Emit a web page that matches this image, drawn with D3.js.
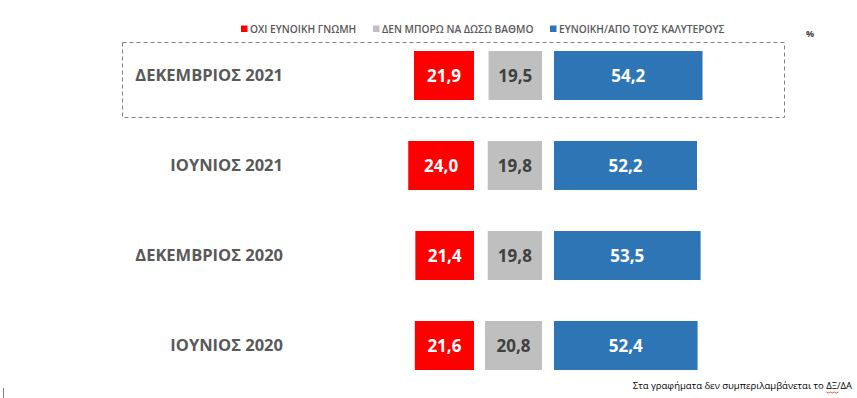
<!DOCTYPE html>
<html>
<head>
  <meta charset="utf-8">
  <title>Γνώμη</title>
  <script type="text/javascript" src="https://d3js.org/d3.v7.min.js"></script>
  <style>
    body { margin: 0; background: #fff; }
    text { font-family: "Open Sans", "Noto Sans", sans-serif; }
  </style>
</head>
<body>
  <div id="container"></div>
  <script type="text/javascript">
    var periods = ['ΔΕΚΕΜΒΡΙΟΣ 2021', 'ΙΟΥΝΙΟΣ 2021', 'ΔΕΚΕΜΒΡΙΟΣ 2020', 'ΙΟΥΝΙΟΣ 2020'];
    var negative = [21.9, 24.0, 21.4, 21.6];
    var noRating = [19.5, 19.8, 19.8, 20.8];
    var positive = [54.2, 52.2, 53.5, 52.4];
    var seriesNames = ['ΟΧΙ ΕΥΝΟΙΚΗ ΓΝΩΜΗ', 'ΔΕΝ ΜΠΟΡΩ ΝΑ ΔΩΣΩ ΒΑΘΜΟ', 'ΕΥΝΟΙΚΗ/ΑΠΟ ΤΟΥΣ ΚΑΛΥΤΕΡΟΥΣ'];
    var seriesColours = ['#ff0000', '#bfbfbf', '#2e75b6'];
    var note = 'Στα γραφήματα δεν συμπεριλαμβάνεται το ΔΞ/ΔΑ';

    var width = 857, height = 398;
    var barh = 49;
    var redEnd = 474, greyEnd = 542, blueStart = 554;

    var svg = d3.select('#container').append('svg')
      .attr('width', width)
      .attr('height', height);

    var w = d3.scaleLinear().domain([0, 100]).range([0, 274]);
    var y = d3.scalePoint().domain(periods).range([75.5, 345.5]);
    var fmt = v => d3.format('.1f')(v).replace('.', ',');

    // highlight box round the latest survey
    svg.append('rect')
      .attr('x', 122.5)
      .attr('y', 42.5)
      .attr('width', 662)
      .attr('height', 75)
      .attr('fill', 'none')
      .attr('stroke', '#808080')
      .attr('stroke-dasharray', '4,3');

    // legend
    var legX = [241, 373, 550];
    var leg = svg.append('g');
    seriesNames.forEach(function(n, i) {
      leg.append('rect')
        .attr('x', legX[i]).attr('y', 25.5)
        .attr('width', 6.5).attr('height', 6.5)
        .attr('fill', seriesColours[i]);
      leg.append('text')
        .attr('x', legX[i] + 9).attr('y', 32.5)
        .style('font-size', '10.2px')
        .style('font-weight', 600)
        .attr('fill', '#595959')
        .text(n);
    });
    svg.append('text')
      .attr('x', 810).attr('y', 37)
      .attr('text-anchor', 'middle')
      .style('font-size', '9px')
      .style('font-weight', 700)
      .attr('fill', '#404040')
      .text('%');

    // period labels
    svg.selectAll('.cat')
      .data(periods)
      .enter()
      .append('text')
        .attr('class', 'cat')
        .attr('x', 283)
        .attr('y', d => y(d))
        .attr('dy', '0.36em')
        .attr('text-anchor', 'end')
        .style('font-size', '16.5px')
        .style('font-weight', 700)
        .attr('fill', '#595959')
        .text(d => d);

    var rows = periods.map((p, i) => ({p: p, neg: negative[i], nr: noRating[i], pos: positive[i]}));

    function drawSeries(key, x0, colour, labelColour) {
      var g = svg.append('g');
      g.selectAll('rect')
        .data(rows)
        .enter()
        .append('rect')
          .attr('x', d => x0(d[key]))
          .attr('y', d => y(d.p) - barh/2)
          .attr('width', d => w(d[key]))
          .attr('height', barh)
          .attr('fill', colour);
      g.selectAll('text')
        .data(rows)
        .enter()
        .append('text')
          .attr('x', d => x0(d[key]) + w(d[key])/2)
          .attr('y', d => y(d.p))
          .attr('dy', '0.36em')
          .attr('text-anchor', 'middle')
          .style('font-size', '17px')
          .style('font-weight', 700)
          .attr('fill', labelColour)
          .text(d => fmt(d[key]));
    }

    drawSeries('neg', v => redEnd - w(v), seriesColours[0], '#ffffff');
    drawSeries('nr', v => greyEnd - w(v), seriesColours[1], '#404040');
    drawSeries('pos', v => blueStart, seriesColours[2], '#ffffff');

    // footnote
    var foot = svg.append('text')
      .attr('x', 852).attr('y', 389)
      .attr('text-anchor', 'end')
      .style('font-size', '9.5px')
      .attr('fill', '#000')
      .text(note);

    // red spell-check squiggle under ΔΞ, as in the source slide
    var fn = foot.node();
    var k = note.indexOf('ΔΞ');
    var sx = 852 - fn.getComputedTextLength() + fn.getSubStringLength(0, k);
    var sw = fn.getSubStringLength(k, 2);
    var pts = d3.range(0, Math.ceil(sw / 2) + 1).map(i => [sx + i * 2, 392 + (i % 2 ? 1 : 0)]);
    svg.append('path')
      .attr('d', d3.line()(pts))
      .attr('fill', 'none')
      .attr('stroke', '#e03030')
      .attr('stroke-width', 0.8);

    // small mark at the bottom left
    svg.append('line')
      .attr('x1', 3.5).attr('x2', 3.5)
      .attr('y1', 388).attr('y2', 398)
      .attr('stroke', '#808080');
  </script>
</body>
</html>
